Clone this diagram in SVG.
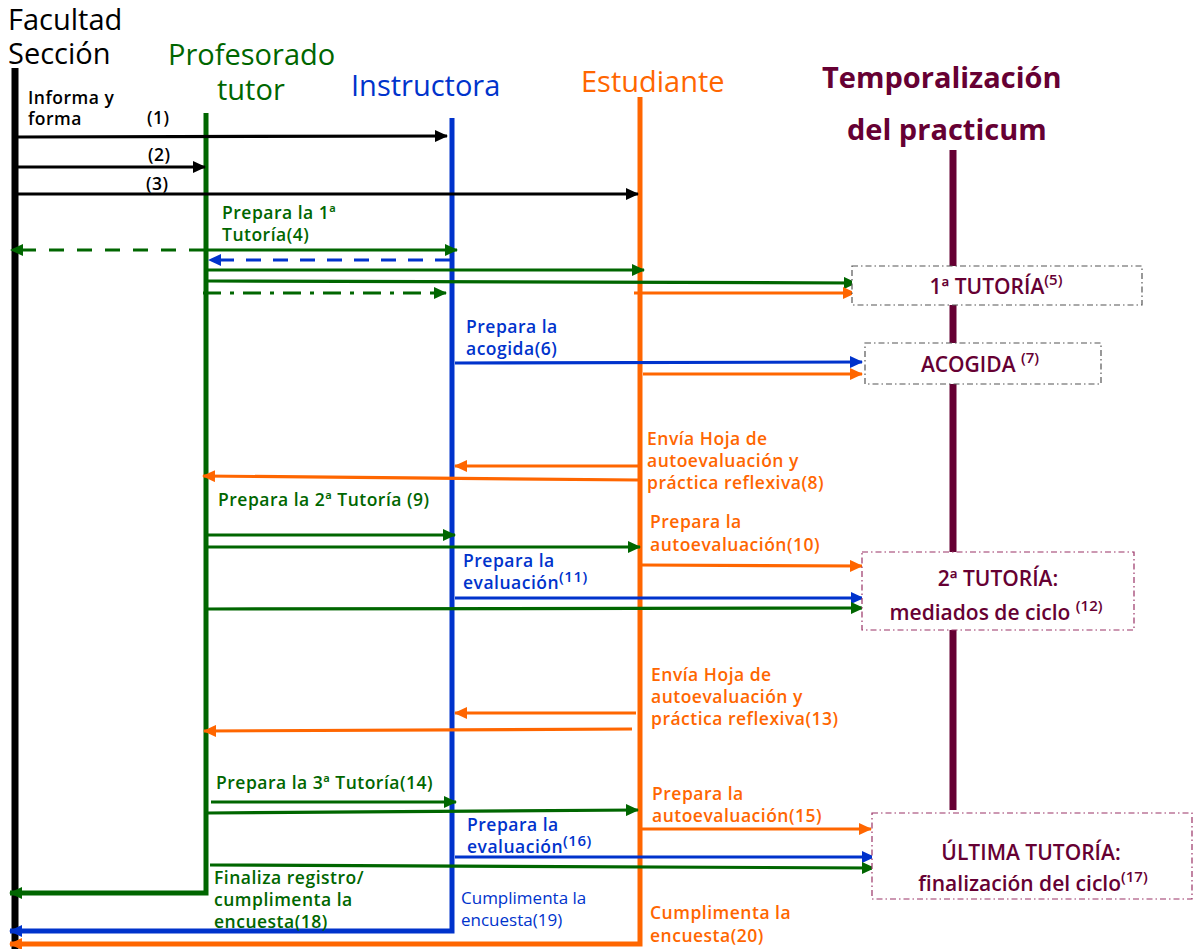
<svg xmlns="http://www.w3.org/2000/svg" width="1193" height="949" viewBox="0 0 1193 949">
<style>
text{font-family:"Open Sans","Noto Sans","DejaVu Sans",sans-serif}
.hd{font-size:29px}
.lb{font-size:17.5px;font-weight:600;letter-spacing:0.5px}
.rg{font-size:17px}
.bx{font-size:21px;font-weight:600;fill:#660033}
.sup{font-size:15px}
.k{fill:#000}.g{fill:#006600}.b{fill:#0033cc}.o{fill:#ff6600}.m{fill:#660033}
.ak{stroke:#000;stroke-width:3.2;fill:none}
.ag{stroke:#006600;stroke-width:3.2;fill:none}
.ab{stroke:#0033cc;stroke-width:3.2;fill:none}
.ao{stroke:#ff6600;stroke-width:3.2;fill:none}
.box1{fill:#fff;stroke:#555;stroke-width:1.2;stroke-dasharray:6 3 1.5 3}
.box2{fill:#fff;stroke:#993366;stroke-width:1.2;stroke-dasharray:6 3 1.5 3}
</style>
<defs>
<marker id="mk" markerUnits="userSpaceOnUse" markerWidth="13" markerHeight="12" refX="12" refY="6" orient="auto"><path d="M0,0 L13,6 L0,12 z" fill="#000"/></marker>
<marker id="mg" markerUnits="userSpaceOnUse" markerWidth="13" markerHeight="12" refX="12" refY="6" orient="auto"><path d="M0,0 L13,6 L0,12 z" fill="#006600"/></marker>
<marker id="mb" markerUnits="userSpaceOnUse" markerWidth="13" markerHeight="12" refX="12" refY="6" orient="auto"><path d="M0,0 L13,6 L0,12 z" fill="#0033cc"/></marker>
<marker id="mo" markerUnits="userSpaceOnUse" markerWidth="13" markerHeight="12" refX="12" refY="6" orient="auto"><path d="M0,0 L13,6 L0,12 z" fill="#ff6600"/></marker>
</defs>

<g id="headers">
<text class="hd k" x="8" y="30">Facultad</text>
<text class="hd k" x="8" y="64">Sección</text>
<text class="hd g" x="168" y="65">Profesorado</text>
<text class="hd g" x="217" y="100">tutor</text>
<text class="hd b" x="351" y="96">Instructora</text>
<text class="hd o" x="581" y="92">Estudiante</text>
<text class="m" x="822" y="88" style="font-size:29px;font-weight:700">Temporalización</text>
<text class="m" x="847" y="140" style="font-size:29px;font-weight:700">del practicum</text>
</g>

<g id="lifelines">
<line x1="15" y1="68" x2="15" y2="949" stroke="#000" stroke-width="7"/>
<line x1="953" y1="150" x2="953" y2="810" stroke="#660033" stroke-width="7"/>
<path d="M206,113 V893 H10" class="ag" style="stroke-width:5" marker-end="url(#mg)"/>
<path d="M452,118 V931 H10" class="ab" style="stroke-width:5" marker-end="url(#mb)"/>
<path d="M640,97 V944 H10" class="ao" style="stroke-width:5" marker-end="url(#mo)"/>
</g>

<g id="connectors">
<line x1="18" y1="137" x2="447" y2="136" class="ak" marker-end="url(#mk)"/>
<line x1="18" y1="167" x2="205" y2="167" class="ak" marker-end="url(#mk)"/>
<line x1="18" y1="194" x2="638" y2="194" class="ak" marker-end="url(#mk)"/>
<line x1="204" y1="250" x2="11" y2="250" class="ag" style="stroke-dasharray:15 13" marker-end="url(#mg)"/>
<line x1="208" y1="250" x2="457" y2="250" class="ag" marker-end="url(#mg)"/>
<line x1="450" y1="260" x2="209" y2="260" class="ab" style="stroke-dasharray:15 12" marker-end="url(#mb)"/>
<line x1="208" y1="270" x2="644" y2="270" class="ag" marker-end="url(#mg)"/>
<line x1="208" y1="281" x2="856" y2="283" class="ag" marker-end="url(#mg)"/>
<line x1="203" y1="293" x2="446" y2="293" class="ag" style="stroke-dasharray:18 9 4 9" marker-end="url(#mg)"/>
<line x1="634" y1="293" x2="855" y2="293" class="ao" marker-end="url(#mo)"/>
<line x1="455" y1="363" x2="862" y2="362" class="ab" marker-end="url(#mb)"/>
<line x1="643" y1="374" x2="862" y2="374" class="ao" marker-end="url(#mo)"/>
<line x1="638" y1="466" x2="455" y2="466" class="ao" marker-end="url(#mo)"/>
<line x1="638" y1="480" x2="203" y2="476" class="ao" marker-end="url(#mo)"/>
<line x1="208" y1="535" x2="455" y2="535" class="ag" marker-end="url(#mg)"/>
<line x1="208" y1="547" x2="640" y2="547" class="ag" marker-end="url(#mg)"/>
<line x1="642" y1="565" x2="862" y2="566" class="ao" marker-end="url(#mo)"/>
<line x1="455" y1="598" x2="863" y2="598" class="ab" marker-end="url(#mb)"/>
<line x1="208" y1="609" x2="863" y2="608" class="ag" marker-end="url(#mg)"/>
<line x1="636" y1="713" x2="455" y2="713" class="ao" marker-end="url(#mo)"/>
<line x1="632" y1="729" x2="204" y2="731" class="ao" marker-end="url(#mo)"/>
<line x1="211" y1="802" x2="456" y2="802" class="ag" marker-end="url(#mg)"/>
<line x1="208" y1="813" x2="638" y2="810" class="ag" marker-end="url(#mg)"/>
<line x1="642" y1="829" x2="871" y2="829" class="ao" marker-end="url(#mo)"/>
<line x1="455" y1="857" x2="874" y2="857" class="ab" marker-end="url(#mb)"/>
<line x1="210" y1="865" x2="874" y2="868" class="ag" marker-end="url(#mg)"/>
</g>

<g id="node-tutoria1">
<rect class="box1" x="852" y="266" width="290" height="39"/>
<text class="bx" x="996" y="294" text-anchor="middle">1ª TUTORÍA<tspan class="sup" dy="-9">(5)</tspan></text>
</g>
<g id="node-acogida">
<rect class="box1" x="865" y="343" width="236" height="41"/>
<text class="bx" x="980" y="372" text-anchor="middle">ACOGIDA <tspan class="sup" dy="-9">(7)</tspan></text>
</g>
<g id="node-tutoria2">
<rect class="box2" x="862" y="552" width="272" height="78"/>
<text class="bx" x="998" y="586" text-anchor="middle">2ª TUTORÍA:</text>
<text class="bx" x="996" y="620" text-anchor="middle">mediados de ciclo <tspan class="sup" dy="-9">(12)</tspan></text>
</g>
<g id="node-ultima">
<rect class="box2" x="872" y="813" width="320" height="86"/>
<text class="bx" x="1031" y="860" text-anchor="middle">ÚLTIMA TUTORÍA:</text>
<text class="bx" x="1033" y="891" text-anchor="middle">finalización del ciclo<tspan class="sup" dy="-9">(17)</tspan></text>
</g>

<g id="labels">
<text class="lb k" x="28" y="104">Informa y</text>
<text class="lb k" x="28" y="125">forma</text>
<text class="lb k" x="147" y="124">(1)</text>
<text class="lb k" x="148" y="161">(2)</text>
<text class="lb k" x="146" y="190">(3)</text>
<text class="lb g" x="222" y="219">Prepara la 1ª</text>
<text class="lb g" x="222" y="241">Tutoría(4)</text>
<text class="lb b" x="466" y="333">Prepara la</text>
<text class="lb b" x="466" y="355">acogida(6)</text>
<text class="lb o" x="647" y="445">Envía Hoja de</text>
<text class="lb o" x="647" y="467">autoevaluación y</text>
<text class="lb o" x="647" y="489">práctica reflexiva(8)</text>
<text class="lb g" x="218" y="506">Prepara la 2ª Tutoría (9)</text>
<text class="lb o" x="650" y="528">Prepara la</text>
<text class="lb o" x="650" y="551">autoevaluación(10)</text>
<text class="lb b" x="463" y="567">Prepara la</text>
<text class="lb b" x="463" y="589">evaluación<tspan class="sup" dy="-7">(11)</tspan></text>
<text class="lb o" x="651" y="681">Envía Hoja de</text>
<text class="lb o" x="651" y="703">autoevaluación y</text>
<text class="lb o" x="651" y="725">práctica reflexiva(13)</text>
<text class="lb g" x="216" y="789">Prepara la 3ª Tutoría(14)</text>
<text class="lb o" x="652" y="800">Prepara la</text>
<text class="lb o" x="652" y="822">autoevaluación(15)</text>
<text class="lb b" x="467" y="831">Prepara la</text>
<text class="lb b" x="467" y="853">evaluación<tspan class="sup" dy="-7">(16)</tspan></text>
<text class="lb g" x="214" y="884">Finaliza registro/</text>
<text class="lb g" x="214" y="906">cumplimenta la</text>
<text class="lb g" x="214" y="928">encuesta(18)</text>
<text class="rg b" x="461" y="904">Cumplimenta la</text>
<text class="rg b" x="461" y="926">encuesta(19)</text>
<text class="lb o" x="650" y="919">Cumplimenta la</text>
<text class="lb o" x="650" y="942">encuesta(20)</text>
</g>
</svg>
